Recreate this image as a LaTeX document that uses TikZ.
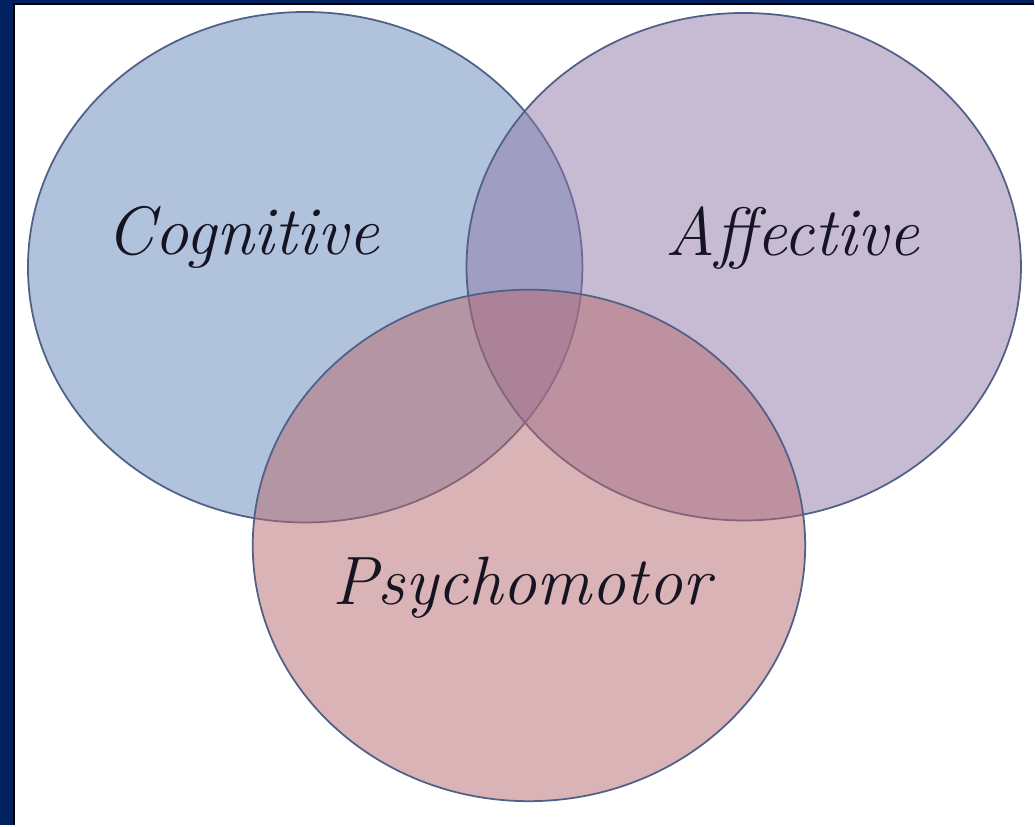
\documentclass[tikz,border=0pt]{standalone}
\definecolor{navy}{RGB}{0,32,96}
\definecolor{cogblue}{RGB}{101,135,187}
\definecolor{affpurple}{RGB}{145,121,169}
\definecolor{psypink}{RGB}{183,105,110}
\definecolor{rimgray}{RGB}{80,96,134}
\definecolor{inkdark}{RGB}{22,20,34}
\begin{document}
\begin{tikzpicture}[x=0.02cm,y=-0.02cm,
	set/.style={draw=rimgray, line width=1pt, fill opacity=0.5},
	word/.style={text=inkdark, font=\fontsize{39}{44}\selectfont\itshape},
	>=stealth]
	
	%Frame
	\fill[navy] (0,0) rectangle (1035,826);
	\fill[white] (14,4) rectangle (1035,826);
	\draw[black, line width=1.2pt] (14,826) -- (14,4) -- (1035,4);
	\useasboundingbox (0,0) rectangle (1035,826);
	
	%Sets
	\draw[set, fill=cogblue]   (305.5,267.5) ellipse [x radius=277.5, y radius=255.5];
	\draw[set, fill=affpurple] (744.5,267) ellipse [x radius=277.5, y radius=254];
	\draw[set, fill=psypink]   (529.5,546) ellipse [x radius=276.5, y radius=256];
	
	%Nodes
	\node[word] (cog) at (243,238) {Cognitive};
	\node[word] (aff) at (793,238) {Affective};
	\node[word] (psy) at (522,588) {Psychomotor};
\end{tikzpicture}
\end{document}
